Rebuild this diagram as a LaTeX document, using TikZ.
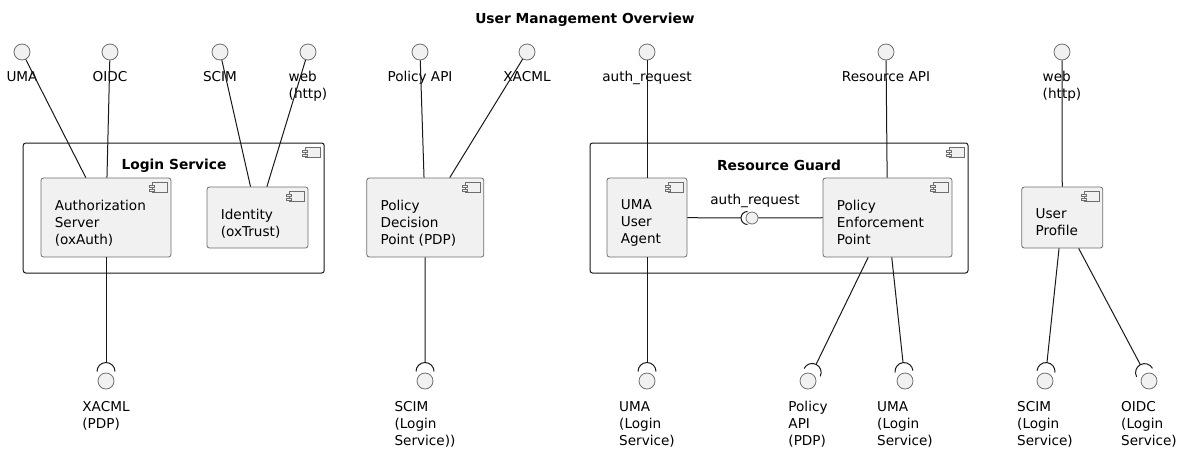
\documentclass[tikz,border=0pt]{standalone}
\usepackage{fontspec}
\setmainfont{DejaVu Sans}
\usepackage{xcolor}
\usepackage{tikz}
\usetikzlibrary{calc,positioning}

\definecolor{boxfill}{HTML}{F1F1F1}
\definecolor{boxline}{HTML}{6E6E6E}
\definecolor{wirecol}{HTML}{181818}

\begin{document}
\begin{tikzpicture}[x=1pt, y=-1pt,
    every node/.style={font=\fontsize{13.6}{17}\selectfont, inner sep=0pt},
    wire/.style={draw=wirecol, line width=1pt},
    iface/.style={circle, draw=boxline, fill=boxfill, line width=0.8pt, minimum size=16pt},
    lbl/.style={align=left, anchor=north},
    comp/.style={draw=boxline, fill=boxfill, line width=0.8pt, rounded corners=2.5pt},
    ctxt/.style={align=left, anchor=north west},
    pack/.style={draw=wirecol, line width=1pt, rounded corners=2.5pt},
    packtitle/.style={font=\fontsize{13.8}{17}\selectfont\bfseries},
    compicon/.pic={
      \draw[draw=boxline, fill=boxfill, line width=0.7pt] (-15,0) rectangle (0,10);
      \draw[draw=boxline, fill=boxfill, line width=0.7pt] (-18,3) rectangle (-13,5);
      \draw[draw=boxline, fill=boxfill, line width=0.7pt] (-18,6.5) rectangle (-13,8.5);
    }]
  \useasboundingbox (0,0) rectangle (1183,451);

  \node[packtitle] (title) at (585,19.5) {User Management Overview};

  % packages
  \node[pack, minimum width=301pt, minimum height=130pt] (ls) at (173.7,208) {};
  \node[packtitle] (ls-t) at (174,165.5) {Login Service};
  \pic at ([xshift=-4pt, yshift=-5pt]ls.north east) {compicon};
  \node[pack, minimum width=378pt, minimum height=130pt] (rg) at (779,208) {};
  \node[packtitle] (rg-t) at (779,165.5) {Resource Guard};
  \pic at ([xshift=-4pt, yshift=-5pt]rg.north east) {compicon};

  % components
  \node[comp, minimum width=130pt, minimum height=79pt] (as) at (106,217.5) {};
  \node[ctxt] (as-t) at ([xshift=14pt, yshift=-22pt]as.north west) {Authorization\\Server\\(oxAuth)};
  \node[comp, minimum width=101pt, minimum height=61pt] (id) at (257.5,217.5) {};
  \node[ctxt] (id-t) at ([xshift=14pt, yshift=-22pt]id.north west) {Identity\\(oxTrust)};
  \node[comp, minimum width=117pt, minimum height=79pt] (pdp) at (425.3,217.5) {};
  \node[ctxt] (pdp-t) at ([xshift=14pt, yshift=-22pt]pdp.north west) {Policy\\Decision\\Point (PDP)};
  \node[comp, minimum width=80pt, minimum height=79pt] (ua) at (647,217.5) {};
  \node[ctxt] (ua-t) at ([xshift=14pt, yshift=-22pt]ua.north west) {UMA\\User\\Agent};
  \node[comp, minimum width=129pt, minimum height=79pt] (pep) at (887.5,217.5) {};
  \node[ctxt] (pep-t) at ([xshift=14pt, yshift=-22pt]pep.north west) {Policy\\Enforcement\\Point};
  \node[comp, minimum width=81pt, minimum height=61pt] (up) at (1062.3,217.5) {};
  \node[ctxt] (up-t) at ([xshift=14pt, yshift=-22pt]up.north west) {User\\Profile};
  \foreach \c in {as,id,pdp,ua,pep,up}
    \pic at ([xshift=-4pt, yshift=-5pt]\c.north east) {compicon};

  % provided interfaces (top)
  \foreach \nm/\px/\txt in {iuma/22/UMA, ioidc/110/OIDC, iscim/220/SCIM, iweb/308/{web\\(http)},
      ipol/420/Policy API, ixacml/527/XACML, iauth/647/auth\_request, ires/886/Resource API,
      iweb2/1062/{web\\(http)}} {
    \node[iface] (\nm) at (\px,52) {};
    \node[lbl] (\nm-l) at ([yshift=-11pt]\nm.south) {\txt};
  }
  \draw[wire] (iuma) -- (as);
  \draw[wire] (ioidc) -- (as);
  \draw[wire] (iscim) -- (id);
  \draw[wire] (iweb) -- (id);
  \draw[wire] (ipol) -- (pdp);
  \draw[wire] (ixacml) -- (pdp);
  \draw[wire] (iauth) -- (ua);
  \draw[wire] (ires) -- (pep);
  \draw[wire] (iweb2) -- (up);

  % required interfaces (bottom)
  \foreach \nm/\px/\txt in {oxacml/106/{XACML\\(PDP)}, oscim/425/{SCIM\\(Login\\Service))},
      ouma/647/{UMA\\(Login\\Service)}, opol/808/{Policy\\API\\(PDP)}, ouma2/905/{UMA\\(Login\\Service)},
      oscim2/1045/{SCIM\\(Login\\Service)}, ooidc/1149/{OIDC\\(Login\\Service)}} {
    \node[iface] (\nm) at (\px,381) {};
    \node[lbl] (\nm-l) at ([yshift=-11.5pt]\nm.south) {\txt};
  }
  \foreach \src/\dst in {as/oxacml, pdp/oscim, ua/ouma, pep/opol, pep/ouma2, up/oscim2, up/ooidc} {
    \draw[wire] (\src) -- ($(\dst)!18.5pt!(\src)$);
    \draw[wire] let \p1=($(\src)-(\dst)$), \n1={atan2(\y1,\x1)} in
      ($(\dst)!9.5pt!(\src)$) ++(\n1-90:9pt) arc[start angle=\n1-90, end angle=\n1+90, radius=9pt];
  }

  % auth_request inside Resource Guard
  \node[iface, minimum size=12pt] (ireq) at (752,218) {};
  \node (ireq-l) at (755,200.5) {auth\_request};
  \draw[wire] (ua) -- ($(ireq)!11pt!(ua)$);
  \draw[wire] ($(ireq)!4.5pt!(ua)$) ++(90:6.5pt) arc[start angle=90, end angle=270, radius=6.5pt];
  \draw[wire] (ireq) -- (pep);
\end{tikzpicture}
\end{document}
